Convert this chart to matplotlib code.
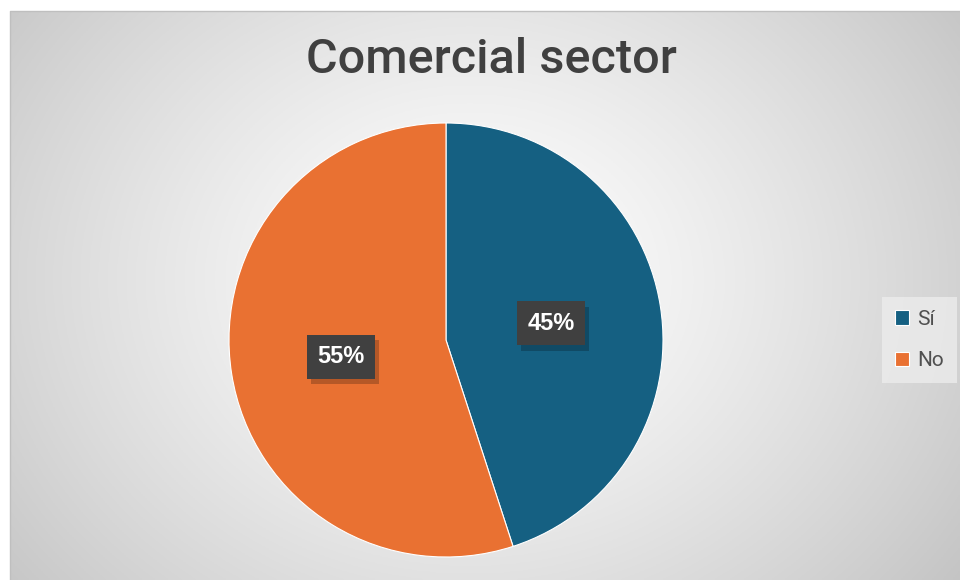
import matplotlib.pyplot as plt
import matplotlib.patheffects as pe
import numpy as np

# Data
labels = ['Sí', 'No']
values = [45, 55]
colors = ['#156082', '#E97132']
title = 'Comercial sector'

plt.rcParams['font.family'] = ['Roboto', 'DejaVu Sans']

W, H = 960, 580
fig = plt.figure(figsize=(W / 100, H / 100), dpi=100)
fig.patch.set_facecolor('white')

ax = fig.add_axes([0, 0, 1, 1])

# Radial gradient background of the chart area
x0, x1, y0, y1 = 10, W, 0, H - 11
gx, gy = np.meshgrid(np.linspace(x0, x1, 400), np.linspace(y0, y1, 250))
cx, cy = 470, 300
r = np.hypot(gx - cx, (gy - cy) * 1.2)
r = np.clip(r / r.max(), 0, 1) ** 1.3
grey = 1 - (1 - 0.77) * r
img = np.dstack([grey, grey, grey])
ax.imshow(img, extent=[x0, x1, y0, y1], origin='lower', zorder=0, aspect='auto')
ax.plot([x0, x0, x1], [y0, y1, y1], color='#bfbfbf', lw=1, zorder=1)

# Pie
wedges, texts, autotexts = ax.pie(
    values,
    colors=colors,
    startangle=90,
    counterclock=False,
    center=(446, 240),
    radius=217,
    autopct=lambda p: f'{p:.0f}%',
    pctdistance=0.49,
    wedgeprops=dict(linewidth=0.8, edgecolor='white'),
    textprops=dict(color='white', fontsize=17, fontweight='bold',
                   family=['Liberation Sans', 'DejaVu Sans']),
    frame=True,
)
ax.set_xlim(0, W)
ax.set_ylim(0, H)
ax.set_aspect('equal')
ax.axis('off')
for w in wedges:
    w.set_zorder(2)

for t in autotexts:
    t.set_zorder(5)
    t.set_bbox(dict(facecolor='#404040', edgecolor='none', boxstyle='square,pad=0.45'))
    t.get_bbox_patch().set_path_effects([
        pe.SimplePatchShadow(offset=(3, -4), shadow_rgbFace='black', alpha=0.22),
        pe.Normal(),
    ])

# Title
ax.text(491, H - 60, title, ha='center', va='center', fontsize=35,
        fontweight='medium', color='#404040', zorder=5)

# Legend
leg = ax.legend(wedges, labels, loc='center left', bbox_to_anchor=(882 / W, 240 / H),
                bbox_transform=fig.transFigure, frameon=True, fontsize=15,
                handlelength=0.7, handleheight=0.7, handletextpad=0.4,
                labelspacing=1.1, borderpad=0.6, fancybox=False,
                borderaxespad=0)
leg.get_frame().set_facecolor('#ececec')
leg.get_frame().set_edgecolor('none')
leg.get_frame().set_alpha(0.8)
for t in leg.get_texts():
    t.set_color('#505050')

fig.savefig('out.png', dpi=100)
plt.close(fig)
